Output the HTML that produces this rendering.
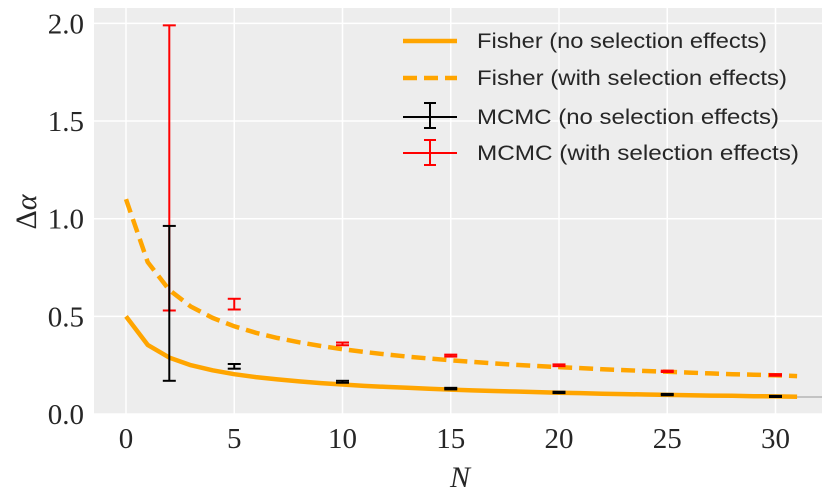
<!DOCTYPE html>
<html><head><meta charset="utf-8">
<style>
html,body{margin:0;padding:0;background:#fff;}
svg{display:block;}
.tick{font-family:"Liberation Serif",serif;font-size:29px;fill:#262626;}
.leg{font-family:"Liberation Sans",sans-serif;font-size:21px;fill:#262626;}
</style></head>
<body>
<svg id="chart" width="830" height="498" viewBox="0 0 830 498" xmlns="http://www.w3.org/2000/svg">
<rect x="94" y="8" width="728" height="406" fill="#ededed"/>
<g id="grid"></g>
<g id="series"></g>
<g id="ticks"></g>
<text x="460" y="487" text-anchor="middle" style="font-family:'Liberation Serif',serif;font-style:italic;font-size:30px;fill:#262626">N</text>
<text transform="translate(36,212) rotate(-90)" text-anchor="middle" style="font-family:'Liberation Serif',serif;font-size:30px;fill:#262626">Δ<tspan font-style="italic">α</tspan></text>
<g>
<line x1="403" y1="41" x2="457" y2="41" stroke="#ffa500" stroke-width="4.5"/>
<text class="leg" x="477" y="48" textLength="290" lengthAdjust="spacingAndGlyphs">Fisher (no selection effects)</text>
<line x1="403" y1="78" x2="457" y2="78" stroke="#ffa500" stroke-width="4.5" stroke-dasharray="14,7"/>
<text class="leg" x="477" y="85" textLength="310" lengthAdjust="spacingAndGlyphs">Fisher (with selection effects)</text>
<g stroke="#000" stroke-width="2"><line x1="403" y1="117" x2="457" y2="117"/><line x1="430" y1="103" x2="430" y2="128"/><line x1="424" y1="103" x2="436" y2="103"/><line x1="424" y1="128" x2="436" y2="128"/></g>
<text class="leg" x="477" y="124" textLength="302" lengthAdjust="spacingAndGlyphs">MCMC (no selection effects)</text>
<g stroke="#f00" stroke-width="2"><line x1="403" y1="153" x2="457" y2="153"/><line x1="430" y1="140" x2="430" y2="165"/><line x1="424" y1="140" x2="436" y2="140"/><line x1="424" y1="165" x2="436" y2="165"/></g>
<text class="leg" x="477" y="160" textLength="322" lengthAdjust="spacingAndGlyphs">MCMC (with selection effects)</text>
</g>
</svg>
<script>
const fisherN = [0,1,2,3,4,5,6,7,8,9,10,11,12,13,14,15,16,17,18,19,20,21,22,23,24,25,26,27,28,29,30,31];
const fisherNoSel = [0.5,0.354,0.289,0.25,0.224,0.204,0.189,0.177,0.167,0.158,0.151,0.144,0.139,0.134,0.129,0.125,0.121,0.118,0.115,0.112,0.109,0.107,0.104,0.102,0.1,0.098,0.096,0.094,0.093,0.091,0.090,0.088];
const fisherWithSel = [1.1,0.778,0.635,0.55,0.492,0.449,0.416,0.389,0.367,0.348,0.332,0.318,0.305,0.294,0.284,0.275,0.267,0.259,0.252,0.246,0.240,0.235,0.229,0.225,0.22,0.216,0.212,0.208,0.204,0.201,0.198,0.194];
const mcmcN = [2,5,10,15,20,25,30];
const mcmcNoSelLow = [0.17,0.232,0.160,0.126,0.107,0.096,0.087];
const mcmcNoSelHigh = [0.963,0.256,0.170,0.134,0.114,0.103,0.093];
const mcmcWithSelLow = [0.53,0.535,0.352,0.294,0.245,0.215,0.196];
const mcmcWithSelHigh = [1.99,0.59,0.366,0.304,0.254,0.222,0.204];
const xTicks = [0,5,10,15,20,25,30];
const yTicks = [0.0,0.5,1.0,1.5,2.0];
const refLineValue = 0.087;

const NS = 'http://www.w3.org/2000/svg';
const X = v => 126 + v * 21.65;
const Y = v => 414 - v * 195.3;
function mk(tag, attrs, parent){const e=document.createElementNS(NS,tag);for(const k in attrs)e.setAttribute(k,attrs[k]);parent.appendChild(e);return e;}
const grid=document.getElementById('grid'), ser=document.getElementById('series'), tk=document.getElementById('ticks');
xTicks.forEach(t=>{
  const l=mk('line',{x1:X(t),x2:X(t),y1:8,y2:414,stroke:'#fff','stroke-width':1.5},grid);
  
  
  const tx=mk('text',{x:X(t),y:448,'text-anchor':'middle',class:'tick'},tk);
  tx.textContent=String(t);
  
  
});
yTicks.forEach(t=>{
  const l=mk('line',{x1:94,x2:822,y1:Y(t),y2:Y(t),stroke:'#fff','stroke-width':1.5},grid);
  
  
  const tx=mk('text',{x:84,y:Y(t)+10,'text-anchor':'end',class:'tick'},tk);
  tx.textContent=t.toFixed(1);
  
  
});
const ref=mk('line',{x1:X(30.5),x2:822,y1:Y(refLineValue),y2:Y(refLineValue),stroke:'#999','stroke-width':1},ser);


function path(vals){return vals.map((v,i)=>(i?'L':'M')+X(fisherN[i]).toFixed(1)+','+Y(v).toFixed(1)).join('');}
const p1=mk('path',{d:path(fisherNoSel),fill:'none',stroke:'#ffa500','stroke-width':4.5,'stroke-linejoin':'round'},ser);


const p2=mk('path',{d:path(fisherWithSel),fill:'none',stroke:'#ffa500','stroke-width':4.5,'stroke-dasharray':'14,7'},ser);


function bars(lo,hi,col,name){
  mcmcN.forEach((n,i)=>{
    const g=mk('g',{stroke:col,'stroke-width':2},ser);
    
    
    const x=X(n);
    mk('line',{x1:x,x2:x,y1:Y(lo[i]),y2:Y(hi[i])},g);
    mk('line',{x1:x-6.5,x2:x+6.5,y1:Y(lo[i]),y2:Y(lo[i])},g);
    mk('line',{x1:x-6.5,x2:x+6.5,y1:Y(hi[i]),y2:Y(hi[i])},g);
  });
}
bars(mcmcWithSelLow,mcmcWithSelHigh,'#f00','mcmc-with-selection-errorbar');
bars(mcmcNoSelLow,mcmcNoSelHigh,'#000','mcmc-no-selection-errorbar');
</script>
</body></html>
